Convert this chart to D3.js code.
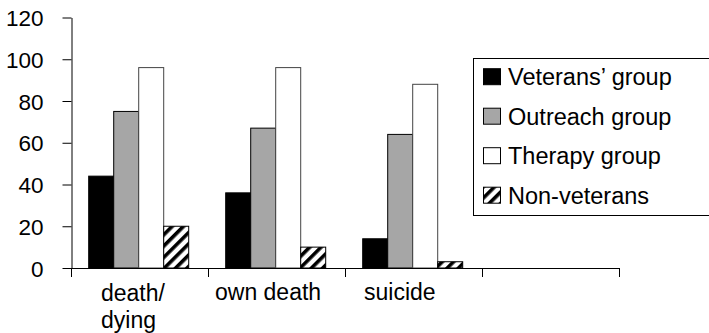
<!DOCTYPE html>
<html><head><meta charset="utf-8">
<script src="https://cdn.jsdelivr.net/npm/d3@7"></script>
<style>body{margin:0;background:#fff}svg{display:block}text{font-family:Arial,"Liberation Sans",sans-serif;fill:#000}</style>
</head><body><svg id="c" width="709" height="333"></svg>
<script>
const categories = [["death/","dying"],["own death"],["suicide"],[""]];
const seriesNames = ["Veterans\u2019 group","Outreach group","Therapy group","Non-veterans"];
const veterans = [44,36,14];
const outreach = [75,67,64];
const therapy = [96,96,88];
const nonVeterans = [20,10,3];
const yTicks = [0,20,40,60,80,100,120];

const series = [veterans,outreach,therapy,nonVeterans];
const fills = ["#000","#a6a6a6","#fff","url(#hatch)"];
const labelLeft = [101, 215, 364, 0]; // layout: left edge of category labels
const svg = d3.select("#c");
const defs = svg.append("defs");
const pat = defs.append("pattern").attr("id","hatch").attr("patternUnits","userSpaceOnUse")
  .attr("width",8).attr("height",8).attr("patternTransform","rotate(45)");
pat.append("rect").attr("width",8).attr("height",8).attr("fill","#fff");
pat.append("rect").attr("x",0).attr("width",3.6).attr("height",8).attr("fill","#000");

const x0 = d3.scaleBand().domain(d3.range(categories.length)).range([71,619]).paddingInner(0).paddingOuter(0);
const x1 = d3.scaleBand().domain(d3.range(series.length)).range([17.7,17.7+100]);
const y = d3.scaleLinear().domain([0,120]).range([268,17.5]);

// bars
series.forEach((vals,si)=>{
  svg.append("g").selectAll("rect").data(vals).join("rect")
    .attr("x",(d,i)=>x0(i)+x1(si)).attr("width",x1.bandwidth())
    .attr("y",d=>y(d)).attr("height",d=>y(0)-y(d))
    .attr("fill",fills[si]).attr("stroke",si===2?"#444":"#000").attr("stroke-width",1);
});

// y axis
const ya = svg.append("g").attr("transform","translate(71.5,0)")
  .call(d3.axisLeft(y).tickValues(yTicks).tickSize(9).tickPadding(19).tickSizeOuter(0));
ya.select(".domain").attr("stroke","#000");
ya.selectAll("line").attr("stroke","#000");
ya.selectAll("text").attr("font-size","22.5px").attr("font-family","Arial,'Liberation Sans',sans-serif").attr("fill","#000").attr("dy","0.36em");

// x axis
const bounds = d3.range(categories.length+1).map(i=>i<categories.length?x0(i):x0.range()[1]);
svg.append("line").attr("x1",71).attr("x2",619).attr("y1",268.5).attr("y2",268.5).attr("stroke","#000");
svg.append("g").selectAll("line").data(bounds).join("line")
  .attr("x1",d=>Math.round(d)+0.5).attr("x2",d=>Math.round(d)+0.5).attr("y1",268).attr("y2",277).attr("stroke","#000");

const labG = svg.append("g");
categories.forEach((lines,i)=>{
  const t = labG.append("text").attr("font-size","23px").attr("text-anchor","start");
  const base = lines.length>1 ? 301 : 299.5;
  lines.forEach((l,k)=>t.append("tspan").attr("x",labelLeft[i]).attr("y",base+k*26.5).text(l));
});

// legend
const lg = svg.append("g");
lg.append("rect").attr("x",473.5).attr("y",58.5).attr("width",240).attr("height",157).attr("fill","#fff").attr("stroke","#000");
seriesNames.forEach((n,i)=>{
  const cy = 76.7+i*39.5;
  lg.append("rect").attr("x",483.5).attr("y",cy-8).attr("width",17).attr("height",16)
    .attr("fill",fills[i]).attr("stroke","#000");
  lg.append("text").attr("x",508).attr("y",cy+8.3).attr("font-size","23.5px").text(n);
});
</script></body></html>
